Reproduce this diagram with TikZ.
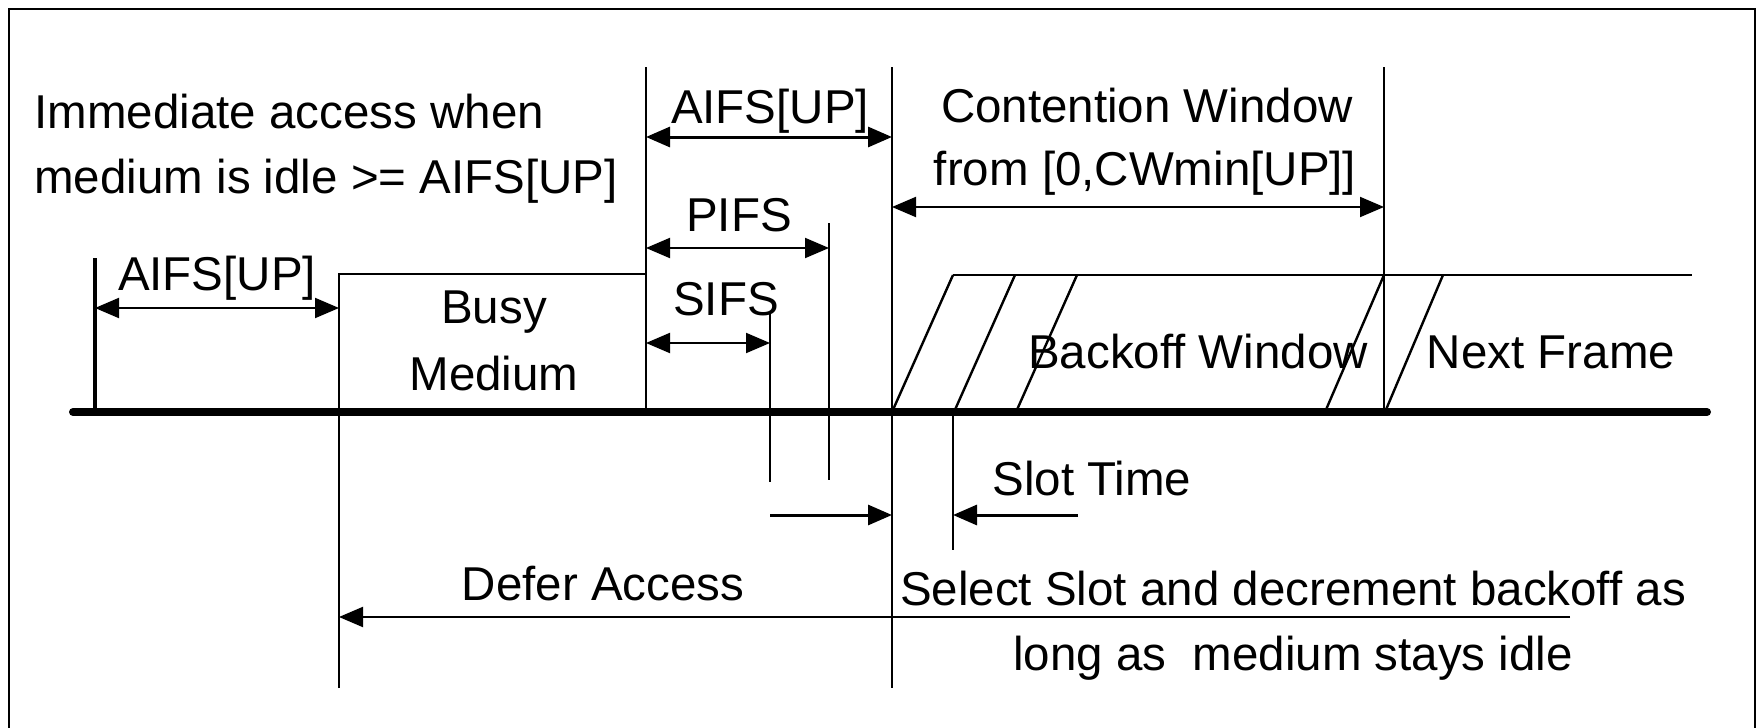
\documentclass[tikz,border=0pt]{standalone}
\usepackage{fontspec}
\setmainfont{Liberation Sans}
\usetikzlibrary{arrows.meta,positioning}

\begin{document}
\begin{tikzpicture}[
        x=0.5pt, y=-0.5pt,
        font=\fontsize{23.75}{28}\selectfont,
        >={Triangle[length=12pt,width=10pt]},
        txt/.style={inner sep=0pt, anchor=base},
        tick/.style={line width=1pt},
        span/.style={<->, line width=1pt},
        slant/.style={line width=1.2pt},
        axis/.style={line width=4pt, line cap=round}
    ]

        \useasboundingbox (0,0) rectangle (1758,728);

        % Frame
        \draw[line width=1.2pt] (9,728) -- (9,9) -- (1755,9) -- (1755,728);

        % Time instants on the medium
        \coordinate (start) at (73,412);
        \coordinate (stop) at (1707,412);
        \coordinate (t0) at (95,412);
        \coordinate (busy) at (339,412);
        \coordinate (idle) at (646,412);
        \coordinate (sifs) at (770,412);
        \coordinate (pifs) at (829,412);
        \coordinate (aifs) at (892,412);
        \coordinate (slot) at (953,412);
        \coordinate (cw) at (1384,412);

        % Medium
        \draw[axis] (start) -- (stop);
        \draw[line width=2pt] (t0) -- (t0 |- 0,258);

        % Busy medium
        \draw[tick] (busy |- 0,688) -- (busy |- 0,274) -- (idle |- 0,274);
        \draw[tick] (idle |- 0,67) -- (idle);
        \draw[tick] (aifs |- 0,67) -- (aifs |- 0,688);
        \draw[tick] (cw |- 0,67) -- (cw);
        \draw[tick] (sifs |- 0,313) -- (sifs |- 0,482);
        \draw[tick] (pifs |- 0,223) -- (pifs |- 0,480);
        \draw[tick] (slot) -- (slot |- 0,550);

        % Spans
        \draw[span] (t0 |- 0,308) -- (busy |- 0,308);
        \draw[span, line width=1.5pt] (idle |- 0,137) -- (aifs |- 0,137);
        \draw[span] (idle |- 0,248) -- (pifs |- 0,248);
        \draw[span] (idle |- 0,343) -- (sifs |- 0,343);
        \draw[span] (aifs |- 0,207) -- (cw |- 0,207);
        \draw[->, line width=1.5pt] (sifs |- 0,515) -- (aifs |- 0,515);
        \draw[->, line width=1.5pt] (1078,515) -- (slot |- 0,515);
        \draw[->, line width=1pt] (1570,617) -- (busy |- 0,617);

        % Backoff slots
        \draw[tick] (slot |- 0,275) -- (1692,275);
        \foreach \x in {892,954,1016}
            \draw[slant] (\x,412) -- ++(61,-137);
        \draw[slant] (1325,412) -- (1384,275);
        \draw[slant] (1385,412) -- (1443,275);

        % Labels
        \node[txt, anchor=base west] (imm1) at (34,128) {Immediate access when};
        \node[txt, anchor=base west] (imm2) at (34,193) {medium is idle >= AIFS[UP]};
        \node[txt] (aifsa) at (217,290) {AIFS[UP]};
        \node[txt] (busy1) at (494,323) {Busy};
        \node[txt] (busy2) at (494,390) {Medium};
        \node[txt] (aifsb) at (770,123) {AIFS[UP]};
        \node[txt] (pifsl) at (739,231) {PIFS};
        \node[txt] (sifsl) at (726,315) {SIFS};
        \node[txt] (cw1) at (1147,122) {Contention Window};
        \node[txt] (cw2) at (1145,185) {from [0,CWmin[UP]]};
        \node[txt] (bo) at (1198,368) {Backoff Window};
        \node[txt] (next) at (1551,368) {Next Frame};
        \node[txt, anchor=base west] (slotl) at (992,495) {Slot Time};
        \node[txt] (defer) at (603,600) {Defer Access};
        \node[txt] (sel1) at (1293,605) {Select Slot and decrement backoff as};
        \node[txt] (sel2) at (1293,670) {long as\ \ medium stays idle};

\end{tikzpicture}
\end{document}
